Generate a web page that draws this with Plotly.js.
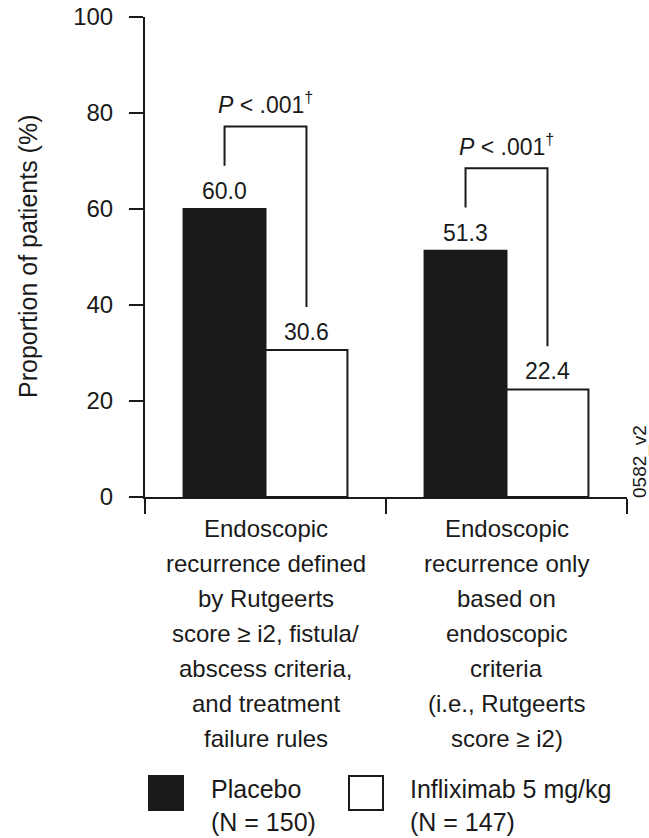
<!DOCTYPE html>
<html>
<head>
<meta charset="utf-8">
<script src="https://cdn.plot.ly/plotly-3.0.1.min.js"></script>
<style>html,body{margin:0;padding:0;background:#fff;}#chart{width:649px;height:838px;}</style>
</head>
<body>
<div id="chart"></div>
<script>
// ---- data ----
const categories = ['Composite', 'Endoscopic only'];
const categoryLabelLines = [
  ['Endoscopic', 'recurrence defined', 'by Rutgeerts', 'score \u2265 i2, fistula/', 'abscess criteria,', 'and treatment', 'failure rules'],
  ['Endoscopic', 'recurrence only', 'based on', 'endoscopic', 'criteria', '(i.e., Rutgeerts', 'score \u2265 i2)']
];
const seriesNames = ['Placebo', 'Infliximab 5 mg/kg'];
const seriesN = ['(N = 150)', '(N = 147)'];
const placebo = [60.0, 51.3];
const infliximab = [30.6, 22.4];
const pValueLabels = ['<i>P</i> < .001<sup>\u2020</sup>', '<i>P</i> < .001<sup>\u2020</sup>'];
const yTickVals = [0, 20, 40, 60, 80, 100];
const figureCode = '0582_v2';

// ---- layout constants ----
const W = 649, H = 838;
const M = {l: 145, r: 22, t: 17, b: 341};
const PW = W - M.l - M.r, PH = H - M.t - M.b;
const px2x = px => (px - M.l) / PW;
const py2y = py => (H - M.b - py) / PH;
const INK = '#1a1a1a';
const FONT = 'Liberation Sans, Arial, Helvetica, sans-serif';
const bargap = 0.32;
const halfBar = (1 - bargap) / 4; // center offset of each bar within group

const traces = [
  {type: 'bar', name: seriesNames[0], x: categories, y: placebo,
   marker: {color: INK, line: {color: INK, width: 2}}, hoverinfo: 'skip'},
  {type: 'bar', name: seriesNames[1], x: categories, y: infliximab,
   marker: {color: '#ffffff', line: {color: INK, width: 2}}, hoverinfo: 'skip'}
];

const shapes = [];
const annotations = [];

// bar value labels and p-value brackets
categories.forEach((c, i) => {
  const xl = i - halfBar, xr = i + halfBar;
  [[xl, placebo[i]], [xr, infliximab[i]]].forEach(([xx, v]) => {
    annotations.push({x: xx, y: v, xref: 'x', yref: 'y', text: v.toFixed(1), showarrow: false,
      yanchor: 'bottom', xanchor: 'center', yshift: 3, font: {family: FONT, size: 23, color: INK}});
  });
  const top = placebo[i] + 17.2;
  const lb = placebo[i] + 9, rb = infliximab[i] + 9;
  shapes.push({type: 'path', xref: 'x', yref: 'y',
    path: `M ${xl} ${lb} L ${xl} ${top} L ${xr} ${top} L ${xr} ${rb}`,
    line: {color: INK, width: 2}});
  annotations.push({x: i, y: top, xref: 'x', yref: 'y', text: pValueLabels[i], showarrow: false,
    yanchor: 'bottom', xanchor: 'center', yshift: 6, font: {family: FONT, size: 23, color: INK}});
  // category labels, one annotation per line
  categoryLabelLines[i].forEach((line, j) => {
    annotations.push({x: i, y: py2y(528 + 35 * j), xref: 'x', yref: 'paper', text: line, showarrow: false,
      xanchor: 'center', yanchor: 'middle', font: {family: FONT, size: 24, color: INK}});
  });
});

// y axis title
annotations.push({x: px2x(28), y: 0.5, xref: 'paper', yref: 'paper', text: 'Proportion of patients (%)',
  textangle: -90, showarrow: false, xanchor: 'center', yanchor: 'middle',
  font: {family: FONT, size: 25, color: INK}});

// figure code
annotations.push({x: px2x(640), y: py2y(462), xref: 'paper', yref: 'paper', text: figureCode,
  textangle: -90, showarrow: false, xanchor: 'center', yanchor: 'middle',
  font: {family: FONT, size: 19, color: INK}});

// legend (drawn manually)
const legendBoxes = [{x0: 149, fill: INK}, {x0: 349, fill: '#ffffff'}];
const legendTextX = [209, 408];
legendBoxes.forEach((b, k) => {
  shapes.push({type: 'rect', xref: 'paper', yref: 'paper',
    x0: px2x(b.x0), x1: px2x(b.x0 + 34), y0: py2y(776), y1: py2y(810),
    fillcolor: b.fill, line: {color: INK, width: 2}});
  annotations.push({x: px2x(legendTextX[k]), y: py2y(805), xref: 'paper', yref: 'paper',
    text: seriesNames[k] + '<br>' + seriesN[k], showarrow: false, align: 'left',
    xanchor: 'left', yanchor: 'middle', font: {family: FONT, size: 25, color: INK}});
});

const layout = {
  width: W, height: H,
  margin: M,
  paper_bgcolor: '#ffffff', plot_bgcolor: '#ffffff',
  barmode: 'group', bargap: bargap, bargroupgap: 0,
  showlegend: false,
  font: {family: FONT, color: INK},
  xaxis: {type: 'category', range: [-0.5, 1.5], showline: true, linecolor: INK, linewidth: 2,
    ticks: 'outside', tickson: 'boundaries', ticklen: 15, tickwidth: 2, tickcolor: INK,
    showticklabels: false, showgrid: false, zeroline: false, fixedrange: true},
  yaxis: {range: [0, 100], tickvals: yTickVals, ticktext: yTickVals.map(String),
    showline: true, linecolor: INK, linewidth: 2, ticks: 'outside', ticklen: 14, tickwidth: 2,
    tickcolor: INK, ticklabelstandoff: 11, tickfont: {family: FONT, size: 24, color: INK},
    showgrid: false, zeroline: false, fixedrange: true},
  shapes: shapes,
  annotations: annotations
};

Plotly.newPlot('chart', traces, layout, {displayModeBar: false, staticPlot: true});
</script>
</body>
</html>
